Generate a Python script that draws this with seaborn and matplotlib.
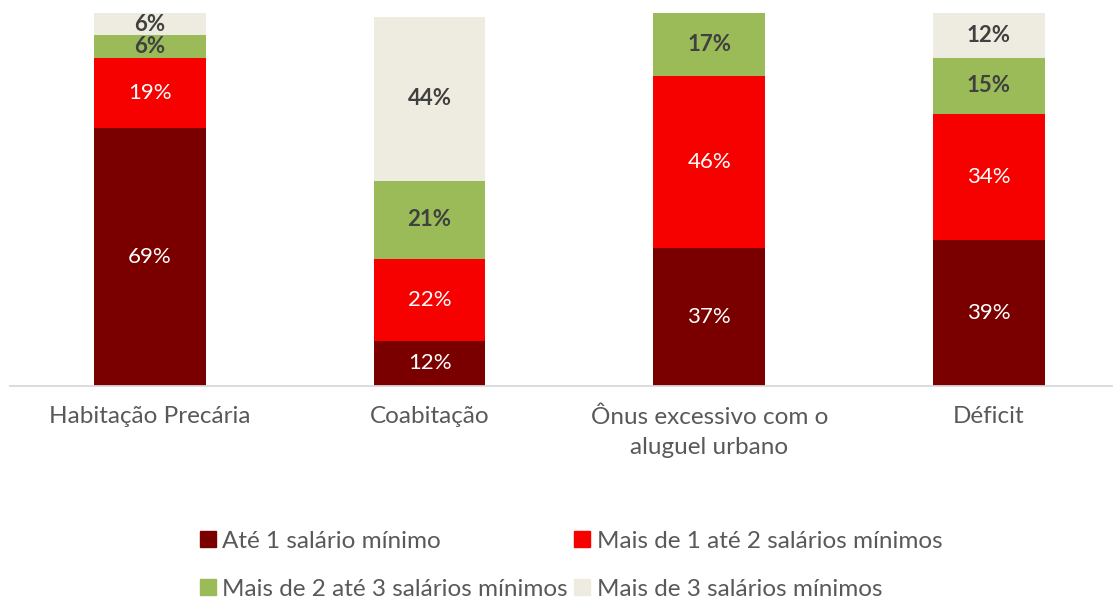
import matplotlib
matplotlib.use("Agg")
import matplotlib.pyplot as plt
import seaborn as sns
import pandas as pd
import numpy as np
from matplotlib.lines import Line2D

categories = ["Habitação Precária", "Coabitação", "Ônus excessivo com o\naluguel urbano", "Déficit"]
series_names = ["Até 1 salário mínimo", "Mais de 1 até 2 salários mínimos",
                "Mais de 2 até 3 salários mínimos", "Mais de 3 salários mínimos"]
ate1 = [69, 12, 37, 39]
de1a2 = [19, 22, 46, 34]
de2a3 = [6, 21, 17, 15]
mais3 = [6, 44, 0, 12]
colors = ["#7A0000", "#F60000", "#9BBB59", "#EEECE1"]
label_colors = ["white", "white", "#404040", "#404040"]
label_weights = ["normal", "normal", "bold", "bold"]

sns.set_theme(style="white")
plt.rcParams['font.family'] = ['Lato', 'DejaVu Sans']

fig = plt.figure(figsize=(11.13, 6.01), dpi=100)
ax = fig.add_axes([10/1113, 1 - 385.5/601, 1103/1113, (385.5 - 13)/601])

all_series = [ate1, de1a2, de2a3, mais3]
bottom = np.zeros(len(categories))
for vals, name, col, lc, lw in zip(all_series, series_names, colors, label_colors, label_weights):
    df = pd.DataFrame({"cat": categories, "val": vals})
    sns.barplot(data=df, x="cat", y="val", order=categories, color=col, width=0.4,
                bottom=bottom, ax=ax, saturation=1, linewidth=0, errorbar=None)
    for i, v in enumerate(vals):
        if v > 0:
            ax.text(i, bottom[i] + v / 2, f"{v}%", ha="center", va="center",
                    color=lc, fontsize=16, fontweight=lw)
    bottom = bottom + np.array(vals)

ax.set_xlim(-0.5, -0.5 + 1103 / 279.7)
ax.set_ylim(0, 100)
ax.set_xlabel("")
ax.set_ylabel("")
ax.set_yticks([])
for s in ["top", "right", "left"]:
    ax.spines[s].set_visible(False)
ax.spines["bottom"].set_color("#D9D9D9")
ax.spines["bottom"].set_linewidth(1.3)
ax.tick_params(axis="x", length=0, pad=15, labelsize=17.5, labelcolor="#595959")
for t in ax.get_xticklabels():
    t.set_linespacing(1.55)
    t.set_verticalalignment("top")

order = [0, 2, 1, 3]
handles = [Line2D([0], [0], marker="s", linestyle="none", markersize=11,
                  markerfacecolor=colors[k], markeredgecolor=colors[k]) for k in order]
labels = [series_names[k] for k in order]
fig.legend(handles, labels, ncol=2, loc="upper left",
           bbox_to_anchor=(176/1113, 1 - 509/601), frameon=False,
           fontsize=17.5, labelcolor="#595959", handletextpad=0.2,
           columnspacing=0.2, labelspacing=1.1, handlelength=0.8)

fig.savefig("out.png", dpi=100)
